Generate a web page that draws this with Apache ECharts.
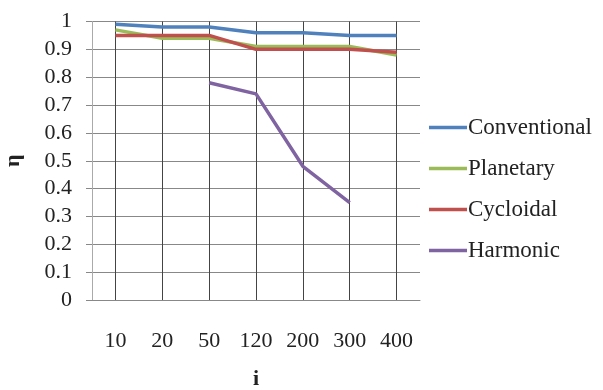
<!DOCTYPE html>
<html>
<head>
<meta charset="utf-8">
<script src="https://cdn.jsdelivr.net/npm/echarts@6/dist/echarts.min.js"></script>
<style>
  html, body { margin: 0; padding: 0; background: #fff; }
  #chart { width: 603px; height: 390px; }
</style>
</head>
<body>
<div id="chart"></div>
<script>
const categories = ['10', '20', '50', '120', '200', '300', '400']
const conventional = [0.99, 0.98, 0.98, 0.96, 0.96, 0.95, 0.95]
const planetary = [0.97, 0.94, 0.94, 0.91, 0.91, 0.91, 0.88]
const cycloidal = [0.95, 0.95, 0.95, 0.90, 0.90, 0.90, 0.89]
const harmonic = ['-', '-', 0.78, 0.74, 0.48, 0.35, '-']

const font = 'Liberation Serif'

function line(name, data, color) {
  return {
    name,
    type: 'line',
    data,
    symbol: 'none',
    lineStyle: { color, width: 3.5 },
    itemStyle: { color },
  }
}

const chart = echarts.init(document.getElementById('chart'))
chart.setOption({
  animation: false,
  legend: {
    orient: 'vertical',
    left: 424,
    top: 111,
    icon: 'rect',
    itemWidth: 38,
    itemHeight: 3.5,
    itemGap: 18,
    textStyle: { fontFamily: font, fontSize: 23, color: '#222', padding: [0, 0, 0, -4] },
    data: ['Conventional', 'Planetary', 'Cycloidal', 'Harmonic'],
  },
  grid: { left: 92, right: 183, top: 21.5, bottom: 90, outerBoundsMode: 'none' },
  xAxis: {
    type: 'category',
    data: categories,
    boundaryGap: true,
    name: 'i',
    nameLocation: 'middle',
    nameGap: 68,
    nameTextStyle: { fontFamily: font, fontSize: 22, fontWeight: 'bold', color: '#222' },
    axisLine: { show: true, lineStyle: { color: '#888' } },
    axisTick: { show: true, alignWithLabel: true, inside: true, length: 278.5, lineStyle: { color: '#444' } },
    axisLabel: { fontFamily: font, fontSize: 22, color: '#222', margin: 30 },
    splitLine: { show: false },
  },
  yAxis: {
    type: 'value',
    min: 0,
    max: 1,
    interval: 0.1,
    name: 'η',
    nameLocation: 'middle',
    nameRotate: 90,
    nameGap: 68,
    nameTextStyle: { fontFamily: font, fontSize: 22, fontWeight: 'bold', color: '#222' },
    axisLine: { show: true, lineStyle: { color: '#aaa' } },
    axisTick: { show: true, length: 6, lineStyle: { color: '#888' } },
    axisLabel: { fontFamily: font, fontSize: 22, color: '#222', margin: 20 },
    splitLine: { show: true, lineStyle: { color: '#888' } },
  },
  series: [
    line('Conventional', conventional, '#4F81BD'),
    line('Planetary', planetary, '#9BBB59'),
    line('Cycloidal', cycloidal, '#C0504D'),
    line('Harmonic', harmonic, '#8064A2'),
  ],
})
</script>
</body>
</html>
